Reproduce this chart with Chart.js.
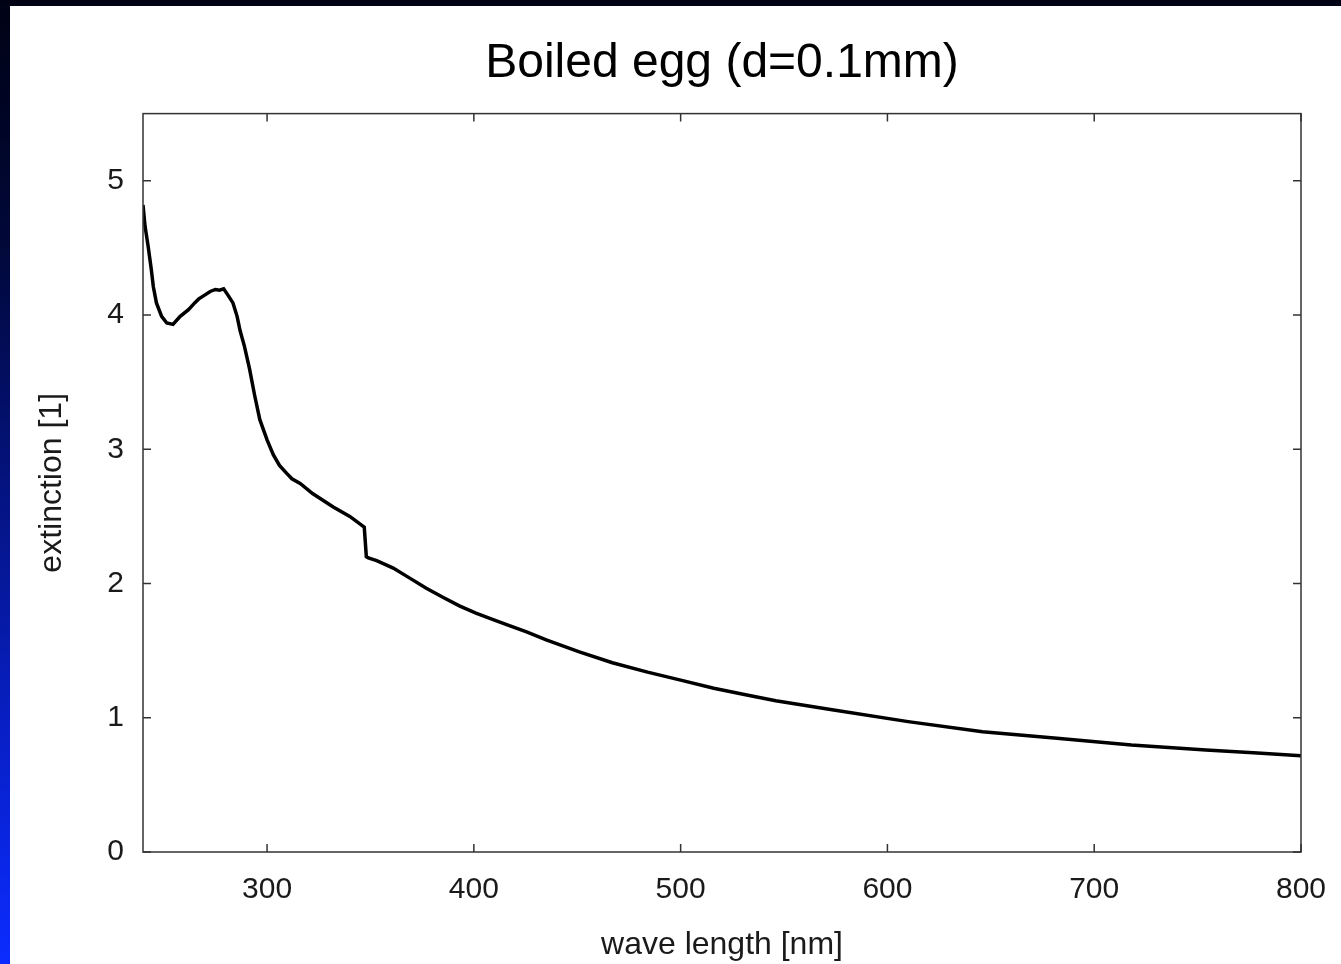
<!DOCTYPE html>
<html>
<head>
<meta charset="utf-8">
<script src="https://cdn.jsdelivr.net/npm/chart.js@4/dist/chart.umd.min.js"></script>
<style>
  html, body { margin: 0; padding: 0; }
  body {
    width: 1341px; height: 964px; overflow: hidden; position: relative;
    background: linear-gradient(to bottom, #000214 0%, #010838 25%, #04137e 50%, #081fc4 75%, #0b2cff 100%);
  }
  #wrap {
    position: absolute; left: 10px; top: 6px; width: 1331px; height: 958px;
    background: #ffffff;
  }
</style>
</head>
<body>
<div id="wrap"><canvas id="c"></canvas></div>
<script>
// ---- data ----
const chartTitle = "Boiled egg (d=0.1mm)";
const xTitle = "wave length [nm]";
const yTitle = "extinction [1]";
const wavelengths = [
  240, 241, 242.5, 244, 245, 246.5, 249, 251.5, 254.5, 258, 262, 265, 267, 270, 272.5, 275, 277, 279,
  281, 283.5, 285.5, 287, 289, 291.5, 294, 296.5, 300, 303, 306, 309.5, 312, 316, 322, 332, 340, 347,
  348, 349, 353, 361, 369, 377, 385, 393, 401, 409, 417.5, 425.5, 435, 451, 467, 484, 500, 516, 532, 546,
  574, 610, 646, 682, 718, 754, 777, 800
];
const extinction = [
  4.82, 4.66, 4.51, 4.34, 4.21, 4.09, 3.99, 3.94, 3.93, 3.99, 4.04, 4.09, 4.12, 4.15, 4.175, 4.19, 4.185, 4.195,
  4.15, 4.09, 3.99, 3.88, 3.77, 3.60, 3.40, 3.22, 3.07, 2.96, 2.88, 2.82, 2.78, 2.745, 2.67, 2.57, 2.50, 2.42,
  2.20, 2.19, 2.17, 2.115, 2.04, 1.965, 1.897, 1.833, 1.78, 1.733, 1.684, 1.64, 1.58, 1.49, 1.41, 1.34, 1.28, 1.22, 1.17, 1.127,
  1.058, 0.971, 0.896, 0.847, 0.797, 0.76, 0.74, 0.717
];
const xTicks = [300, 400, 500, 600, 700, 800];
const yTicks = [0, 1, 2, 3, 4, 5];
const xRange = [240, 800];
const yRange = [0, 5.5];

const FONT = "'Liberation Sans', Arial, Helvetica, sans-serif";

const framePlugin = {
  id: 'frame',
  afterDatasetsDraw(chart) {
    const {ctx, chartArea: a, scales} = chart;
    ctx.save();
    ctx.strokeStyle = '#333333';
    ctx.lineWidth = 1.5;
    ctx.strokeRect(a.left, a.top, a.right - a.left, a.bottom - a.top);
    const L = 8;
    ctx.beginPath();
    xTicks.forEach(v => {
      const px = scales.x.getPixelForValue(v);
      ctx.moveTo(px, a.bottom); ctx.lineTo(px, a.bottom - L);
      ctx.moveTo(px, a.top); ctx.lineTo(px, a.top + L);
    });
    yTicks.forEach(v => {
      const py = scales.y.getPixelForValue(v);
      ctx.moveTo(a.left, py); ctx.lineTo(a.left + L, py);
      ctx.moveTo(a.right, py); ctx.lineTo(a.right - L, py);
    });
    ctx.stroke();
    ctx.restore();
  }
};

new Chart(document.getElementById('c'), {
  type: 'line',
  data: {
    datasets: [{
      data: wavelengths.map((x, i) => ({x: x, y: extinction[i]})),
      borderColor: '#000000',
      borderWidth: 3.5,
      pointRadius: 0,
      tension: 0,
      fill: false
    }]
  },
  options: {
    responsive: true,
    maintainAspectRatio: false,
    animation: false,
    layout: { padding: { left: 0, right: 40, top: 0, bottom: 0 } },
    plugins: {
      legend: { display: false },
      tooltip: { enabled: false },
      title: {
        display: true,
        text: chartTitle,
        fullSize: false,
        color: '#000000',
        font: { family: FONT, size: 48, weight: 'normal' },
        padding: { top: 29, bottom: 21 }
      }
    },
    scales: {
      x: {
        type: 'linear',
        min: xRange[0], max: xRange[1],
        afterBuildTicks: s => { s.ticks = xTicks.map(v => ({value: v})); },
        afterFit: s => { s.height = 112; s.paddingLeft = 0; s.paddingRight = 0; },
        grid: { display: false, drawTicks: false },
        border: { display: false },
        ticks: {
          color: '#1a1a1a',
          padding: 20,
          maxRotation: 0,
          font: { family: FONT, size: 30 }
        },
        title: {
          display: true, text: xTitle, color: '#1a1a1a',
          font: { family: FONT, size: 32 },
          padding: { top: 0, bottom: 0 }
        }
      },
      y: {
        type: 'linear',
        min: yRange[0], max: yRange[1],
        afterBuildTicks: s => { s.ticks = yTicks.map(v => ({value: v})); },
        afterFit: s => { s.width = 133; s.paddingTop = 0; s.paddingBottom = 0; },
        grid: { display: false, drawTicks: false },
        border: { display: false },
        ticks: {
          color: '#1a1a1a',
          padding: 19,
          font: { family: FONT, size: 30 }
        },
        title: {
          display: true, text: yTitle, color: '#1a1a1a',
          font: { family: FONT, size: 32 },
          padding: { top: 23, bottom: 0 }
        }
      }
    }
  },
  plugins: [framePlugin]
});
</script>
</body>
</html>
